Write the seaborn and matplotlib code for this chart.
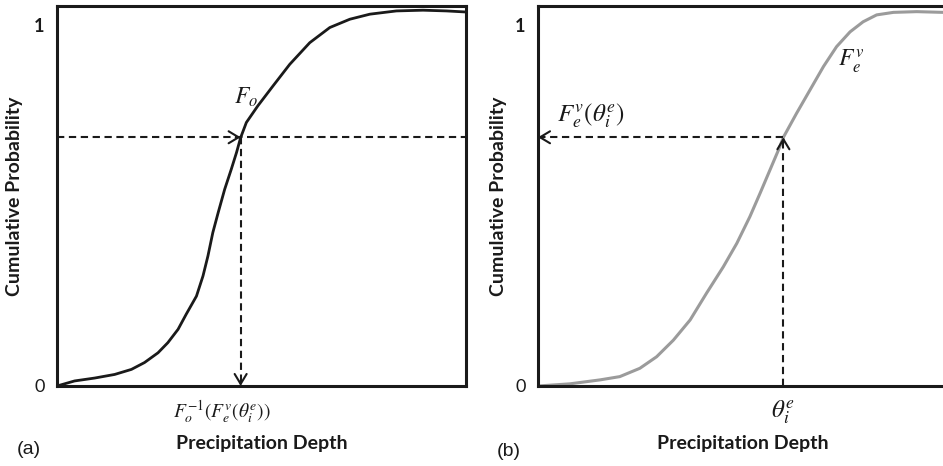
import matplotlib
matplotlib.use('Agg')
import matplotlib.pyplot as plt
import seaborn as sns

obs_x = [0.0, 0.043, 0.092, 0.141, 0.182, 0.214, 0.247, 0.271, 0.296, 0.316, 0.341,
         0.357, 0.369, 0.381, 0.394, 0.410, 0.426, 0.439, 0.449, 0.463, 0.491,
         0.528, 0.569, 0.618, 0.667, 0.716, 0.765, 0.830, 0.895, 0.952, 1.0]
obs_cdf = [0.0, 0.014, 0.022, 0.032, 0.046, 0.065, 0.092, 0.120, 0.157, 0.199, 0.249,
           0.305, 0.360, 0.425, 0.480, 0.545, 0.600, 0.647, 0.688, 0.730, 0.776,
           0.831, 0.891, 0.951, 0.993, 1.016, 1.030, 1.039, 1.041, 1.039, 1.036]

# estimated CDF F_e^v (panel b)
est_x = [0.0, 0.078, 0.152, 0.200, 0.249, 0.290, 0.331, 0.372, 0.412, 0.453, 0.486,
         0.518, 0.543, 0.567, 0.588, 0.600, 0.632, 0.665, 0.698, 0.730, 0.763,
         0.795, 0.828, 0.869, 0.926, 0.990]
est_cdf = [0.0, 0.006, 0.017, 0.026, 0.049, 0.081, 0.127, 0.183, 0.257, 0.330, 0.395,
           0.469, 0.534, 0.598, 0.654, 0.689, 0.755, 0.820, 0.885, 0.940, 0.981,
           1.009, 1.028, 1.035, 1.037, 1.035]

prob_level = 0.689     # F_e^v(theta_i^e)
obs_quantile = 0.449   # F_o^-1(...)
est_value = 0.600      # theta_i^e

y_ticks = [0, 1]
y_ticklabels = ['0', '1']

sns.set_theme(style='white')
plt.rcParams['font.family'] = ['Lato', 'DejaVu Sans']
plt.rcParams['mathtext.fontset'] = 'stix'

fig = plt.figure(figsize=(9.43, 4.66), dpi=100)
ax_a = fig.add_axes([57 / 943, 80 / 466, 409 / 943, 380 / 466])
ax_b = fig.add_axes([538 / 943, 80 / 466, 409 / 943, 380 / 466])

ink = '#1a1a1a'
dash = (0, (3.5, 2.2))
head = '->,head_length=0.6,head_width=0.36'


def arrow_head(ax, tip, back):
    ax.annotate('', xy=tip, xytext=back,
                arrowprops=dict(arrowstyle=head, lw=1.5, color=ink,
                                shrinkA=0, shrinkB=0))


def style_axes(ax):
    ax.set_xlim(0, 1)
    ax.set_ylim(0, 380 / 361)
    ax.set_xticks([])
    ax.set_yticks(y_ticks)
    ax.set_yticklabels(y_ticklabels, fontsize=13, color=ink)
    ax.get_yticklabels()[1].set_fontweight('bold')
    ax.tick_params(axis='y', length=0, pad=9)
    for sp in ax.spines.values():
        sp.set_visible(True)
        sp.set_color(ink)
        sp.set_linewidth(2.2)
    ax.set_xlabel('Precipitation Depth', fontsize=14, fontweight='bold', color=ink)
    ax.set_ylabel('Cumulative Probability', fontsize=14, fontweight='bold', color=ink)
    ax.xaxis.set_label_coords(0.5, -0.128)
    ax.patch.set_alpha(0)


# panel (a)
sns.lineplot(x=obs_x, y=obs_cdf, ax=ax_a, color=ink, linewidth=2.0)
ax_a.plot([0, 1], [prob_level, prob_level], ls=dash, lw=1.5, color=ink)
ax_a.plot([obs_quantile, obs_quantile], [prob_level, 0], ls=dash, lw=1.5, color=ink)
arrow_head(ax_a, (obs_quantile, prob_level), (obs_quantile - 0.012, prob_level))
arrow_head(ax_a, (obs_quantile, 0.0), (obs_quantile, 0.015))
style_axes(ax_a)
ax_a.yaxis.set_label_coords(-0.083, 0.5)
ax_a.text(0.432, 0.80, r'$F_o$', fontsize=17, color=ink, ha='left', va='center')
ax_a.text(0.404, -0.068, r'$F_o^{-1}\left(F_e^v(\theta_i^e)\right)$', fontsize=14,
          color=ink, ha='center', va='center', transform=ax_a.get_xaxis_transform())

# panel (b)
sns.lineplot(x=est_x, y=est_cdf, ax=ax_b, color='#9b9b9b', linewidth=2.2)
ax_b.plot([est_value, 0], [prob_level, prob_level], ls=dash, lw=1.5, color=ink)
ax_b.plot([est_value, est_value], [0, prob_level], ls=dash, lw=1.5, color=ink)
arrow_head(ax_b, (0.0, prob_level), (0.012, prob_level))
arrow_head(ax_b, (est_value, prob_level), (est_value, prob_level - 0.015))
style_axes(ax_b)
ax_b.yaxis.set_label_coords(-0.076, 0.5)
ax_b.text(0.733, 0.900, r'$F_e^v$', fontsize=17, color=ink, ha='left', va='center')
ax_b.text(0.046, 0.748, r'$F_e^v(\theta_i^e)$', fontsize=18, color=ink,
          ha='left', va='center')
ax_b.text(est_value, -0.068, r'$\theta_i^e$', fontsize=18, color=ink,
          ha='center', va='center', transform=ax_b.get_xaxis_transform())

fig.text(17 / 943, 1 - 450 / 466, '(a)', fontsize=14, family='Liberation Sans',
         color=ink, va='center')
fig.text(497 / 943, 1 - 452 / 466, '(b)', fontsize=14, family='Liberation Sans',
         color=ink, va='center')

fig.savefig('out.png', dpi=100)
